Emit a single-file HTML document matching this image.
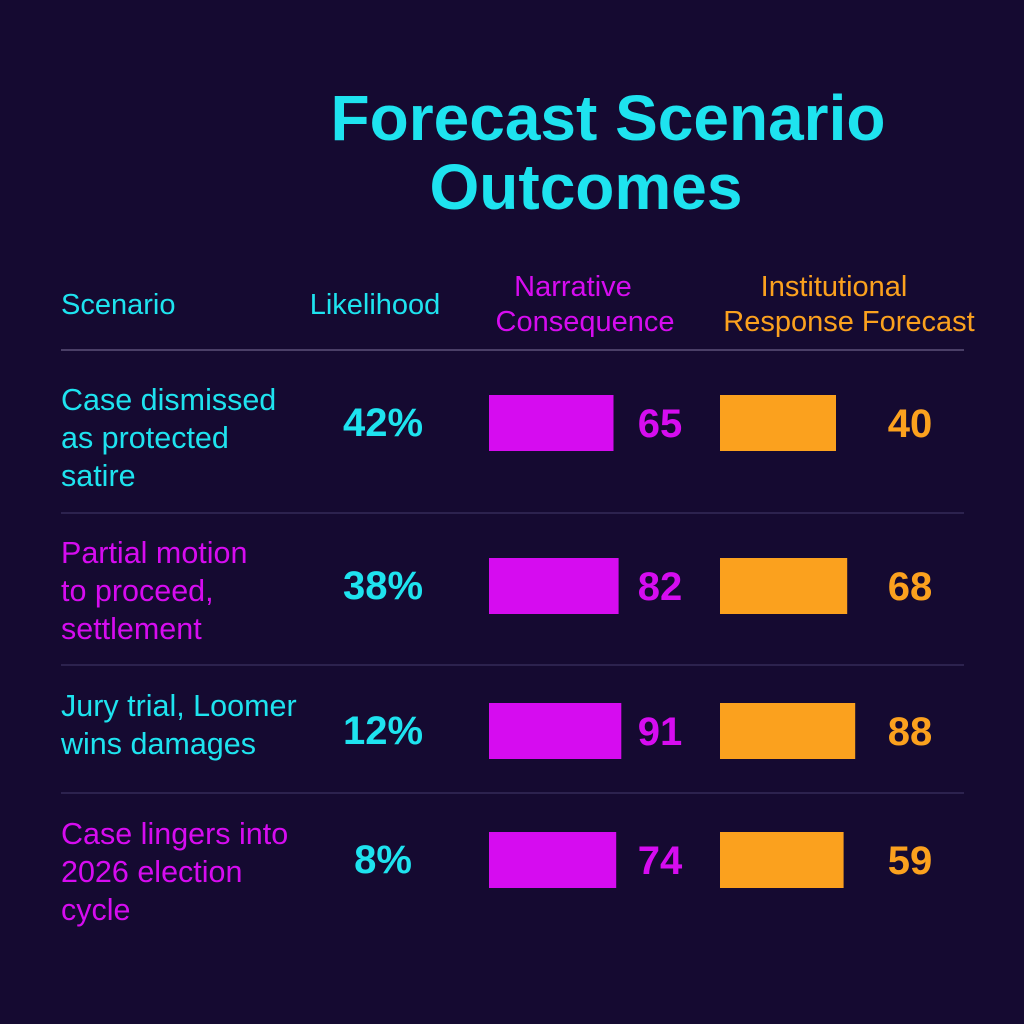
<!DOCTYPE html>
<html><head><meta charset="utf-8"><style>
html,body{margin:0;padding:0;background:#150a31;}
body{width:1024px;height:1024px;position:relative;overflow:hidden;font-family:"Liberation Sans",sans-serif;}
</style></head><body>
<svg id="chart" width="1024" height="1024" style="position:absolute;left:0;top:0" font-family="Liberation Sans, sans-serif"></svg>
<script>
const scenarios=[["Case dismissed","as protected","satire"],["Partial motion","to proceed,","settlement"],["Jury trial, Loomer","wins damages"],["Case lingers into","2026 election","cycle"]];
const likelihood=[42,38,12,8];
const narrative=[65,82,91,74];
const institutional=[40,68,88,59];
const CY="#1ee3ef",MG="#d60cf0",OR="#fba11e";
const svg=document.getElementById('chart');
const NS="http://www.w3.org/2000/svg";
function mk(tag,attrs,parent){const e=document.createElementNS(NS,tag);for(const k in attrs)e.setAttribute(k,attrs[k]);(parent||svg).appendChild(e);return e;}
function txt(s,x,y,size,fill,anchor,weight){const e=mk('text',{x:x,y:y,'font-size':size,fill:fill,'text-anchor':anchor||'start','font-weight':weight||'normal'});e.textContent=s;return e;}
let e;
e=txt("Forecast Scenario",608,140,64,CY,'middle','bold');

e=txt("Outcomes",586,209,64,CY,'middle','bold');

e=txt("Scenario",61,314,29,CY);
e=txt("Likelihood",375,314,29,CY,'middle');
e=txt("Narrative",573,296,29,MG,'middle');
e=txt("Consequence",585,331,29,MG,'middle');
e=txt("Institutional",834,296,29,OR,'middle');
e=txt("Response Forecast",849,331,29,OR,'middle');
const lineYs=[350,513,665,793];
lineYs.forEach((y,i)=>{const l=mk('line',{x1:61,x2:964,y1:y,y2:y,stroke:i===0?'#6a5f88':'#3b3160','stroke-width':1.2});
});
const rowCenters=[423,586,731,860];
const labelCenters=[438,591,725,872];
const labelCols=[CY,MG,CY,MG];
function barW(v){return 105+v*0.3;}
function barW2(v){return 100+v*0.4;}
scenarios.forEach((lines,i)=>{
  const cy=rowCenters[i];
  const n=lines.length;const y0=labelCenters[i]-(n-1)*19+10;
  lines.forEach((s,j)=>{const t=txt(s,61,y0+j*38,30.5,labelCols[i]);
    });
  const p=txt(likelihood[i]+"%",383,cy+13,40,CY,'middle','bold');
  
  const b1=mk('rect',{x:489,y:cy-28,width:barW(narrative[i]),height:56,fill:MG});
  
  const v1=txt(String(narrative[i]),660,cy+14,40,MG,'middle','bold');
  
  const b2=mk('rect',{x:720,y:cy-28,width:barW2(institutional[i]),height:56,fill:OR});
  
  const v2=txt(String(institutional[i]),910,cy+14,40,OR,'middle','bold');
  
});
</script>
</body></html>
